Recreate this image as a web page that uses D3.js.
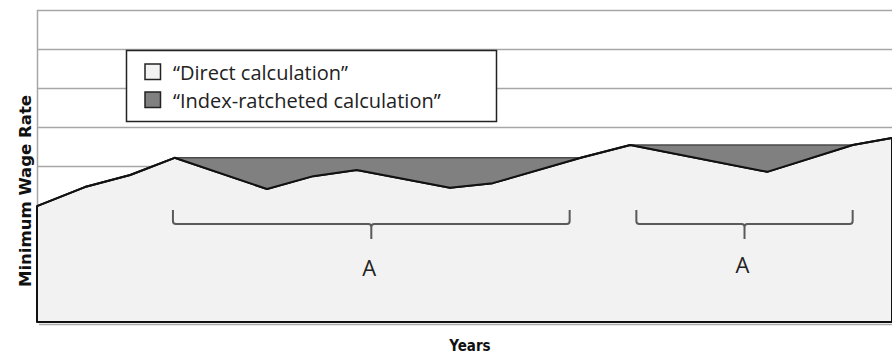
<!DOCTYPE html>
<html lang="en">
  <head>
    <meta charset="utf-8">
    <script src="https://d3js.org/d3.v7.min.js"></script>
    <style>
      body { margin: 0; background: #fff; }
      svg { display: block; }
    </style>
  </head>
  <body>
    <svg width="892" height="356"></svg>
    <script>
      // periods along the x axis (no tick labels in the original)
      var periods = [0, 5.6, 10.9, 16.1, 26.9, 32.3, 37.4, 48.3, 53.3, 63.6, 69.4, 85.4, 95.4, 100];
      // "Direct calculation" wage rate
      var direct = [2.97, 3.46, 3.77, 4.21, 3.41, 3.74, 3.90, 3.44, 3.56, 4.21, 4.54, 3.85, 4.54, 4.72];
      // "Index-ratcheted calculation" wage rate
      var ratchet = [2.97, 3.46, 3.77, 4.21, 4.21, 4.21, 4.21, 4.21, 4.21, 4.21, 4.54, 4.54, 4.54, 4.72];
      // bracketed ratchet periods, labelled "A"
      var bracketStart = [15.9, 70.1];
      var bracketEnd = [62.3, 95.4];
      var bracketLabels = ["A", "A"];
      var legendLabels = ["\u201cDirect calculation\u201d", "\u201cIndex-ratcheted calculation\u201d"];
      var gridValues = [1, 2, 3, 4, 5, 6, 7, 8];

      var svg = d3.select("svg");

      var x = d3.scaleLinear().domain([0, 100]).range([37, 892]);
      var y = d3.scaleLinear().domain([0, 8]).range([322, 10]);

      var data = periods.map(function (p, i) {
        return { p: p, d: direct[i], r: ratchet[i] };
      });

      // horizontal gridlines
      svg.append("g")
        .attr("transform", "translate(37,0)")
        .call(d3.axisLeft(y).tickValues(gridValues).tickSize(-(892 - 37)).tickFormat(""))
        .call(function (g) {
          g.select(".domain").remove();
          g.selectAll("line").attr("stroke", "#a6a6a6").attr("stroke-width", 1.5);
        });

      // left axis line (upper part visible above the area)
      svg.append("line")
        .attr("x1", 37.5).attr("x2", 37.5)
        .attr("y1", y(8)).attr("y2", y(0))
        .attr("stroke", "#a6a6a6").attr("stroke-width", 1.5);

      // shadow under the bottom edge
      svg.append("line")
        .attr("x1", 39).attr("x2", 892)
        .attr("y1", y(0) + 2.5).attr("y2", y(0) + 2.5)
        .attr("stroke", "#aaa").attr("stroke-width", 1.5);

      // light area: direct calculation
      var area = d3.area()
        .x(function (d) { return x(d.p); })
        .y0(y(0))
        .y1(function (d) { return y(d.d); });

      svg.append("path")
        .datum(data)
        .attr("d", area)
        .attr("fill", "#f2f2f2")
        .attr("stroke", "#111")
        .attr("stroke-width", 2)
        .attr("stroke-linejoin", "round");

      // dark area: difference between ratchet and direct
      var gap = d3.area()
        .x(function (d) { return x(d.p); })
        .y0(function (d) { return y(d.d); })
        .y1(function (d) { return y(d.r); });

      svg.append("path")
        .datum(data)
        .attr("d", gap)
        .attr("fill", "#808080");

      var ratchetLine = d3.line()
        .x(function (d) { return x(d.p); })
        .y(function (d) { return y(d.r); });

      svg.append("path")
        .datum(data)
        .attr("d", ratchetLine)
        .attr("fill", "none")
        .attr("stroke", "#4a4a4a")
        .attr("stroke-width", 1.5);

      var directLine = d3.line()
        .x(function (d) { return x(d.p); })
        .y(function (d) { return y(d.d); });

      svg.append("path")
        .datum(data)
        .attr("d", directLine)
        .attr("fill", "none")
        .attr("stroke", "#111")
        .attr("stroke-width", 2)
        .attr("stroke-linejoin", "round");

      // brackets
      var bTop = 210, bMid = 224, bTip = 239, r = 3;
      bracketStart.forEach(function (s, i) {
        var x0 = x(s), x1 = x(bracketEnd[i]), xm = (x0 + x1) / 2;
        var p = "M" + x0 + "," + bTop + "L" + x0 + "," + (bMid - r) +
          "Q" + x0 + "," + bMid + " " + (x0 + r) + "," + bMid +
          "L" + (xm - r) + "," + bMid +
          "Q" + xm + "," + bMid + " " + xm + "," + (bMid + r) +
          "L" + xm + "," + bTip +
          "M" + xm + "," + (bMid + r) +
          "Q" + xm + "," + bMid + " " + (xm + r) + "," + bMid +
          "L" + (x1 - r) + "," + bMid +
          "Q" + x1 + "," + bMid + " " + x1 + "," + (bMid - r) +
          "L" + x1 + "," + bTop;
        svg.append("path")
          .attr("d", p)
          .attr("fill", "none")
          .attr("stroke", "#5a5a5a")
          .attr("stroke-width", 2);
        svg.append("text")
          .attr("x", xm - 2)
          .attr("y", i === 0 ? 276 : 273)
          .attr("text-anchor", "middle")
          .style("font-family", "'Open Sans', sans-serif")
          .style("font-size", "22px")
          .attr("fill", "#222")
          .text(bracketLabels[i]);
      });

      // legend
      var legend = svg.append("g");
      legend.append("rect")
        .attr("x", 126.5).attr("y", 50.5)
        .attr("width", 370).attr("height", 71)
        .attr("fill", "#fff")
        .attr("stroke", "#222")
        .attr("stroke-width", 1.5);
      var legendFill = ["#f2f2f2", "#808080"];
      legendLabels.forEach(function (t, i) {
        legend.append("rect")
          .attr("x", 145).attr("y", 64 + i * 28)
          .attr("width", 15.5).attr("height", 15.5)
          .attr("fill", legendFill[i])
          .attr("stroke", "#222")
          .attr("stroke-width", 1.5);
        legend.append("text")
          .attr("x", 173).attr("y", 80 + i * 28)
          .style("font-family", "'Open Sans', sans-serif")
          .style("font-size", "20px")
          .attr("fill", "#222")
          .text(t);
      });

      // axis titles
      svg.append("text")
        .attr("x", 470).attr("y", 351)
        .attr("text-anchor", "middle")
        .style("font-family", "'DejaVu Sans Condensed', 'DejaVu Sans', sans-serif")
        .style("font-weight", "bold")
        .style("font-size", "15px")
        .attr("fill", "#111")
        .text("Years");

      svg.append("text")
        .attr("transform", "translate(31,191)rotate(-90)")
        .attr("text-anchor", "middle")
        .attr("textLength", 192)
        .attr("lengthAdjust", "spacingAndGlyphs")
        .style("font-family", "'DejaVu Sans', sans-serif")
        .style("font-weight", "bold")
        .style("font-size", "16px")
        .attr("fill", "#111")
        .text("Minimum Wage Rate");
    </script>
  </body>
</html>
